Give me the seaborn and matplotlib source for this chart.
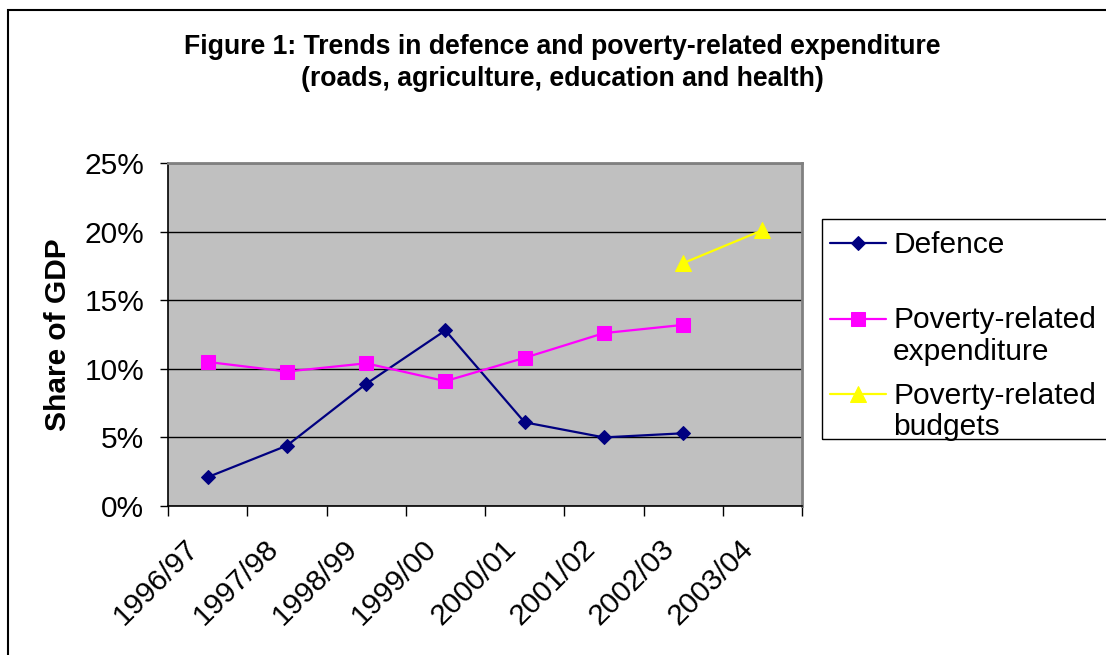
import matplotlib
matplotlib.use("Agg")
import matplotlib.pyplot as plt
import matplotlib.transforms as mtransforms
import seaborn as sns
import pandas as pd
import numpy as np
from matplotlib.patches import Rectangle
from matplotlib.legend_handler import HandlerLine2D

categories = ["1996/97", "1997/98", "1998/99", "1999/00", "2000/01", "2001/02", "2002/03", "2003/04"]
defence = [2.1, 4.4, 8.9, 12.8, 6.1, 5.0, 5.3, None]
poverty_exp = [10.5, 9.8, 10.4, 9.1, 10.8, 12.6, 13.2, None]
poverty_budget = [None, None, None, None, None, None, 17.7, 20.1]
series_names = ["Defence", "Poverty-related\nexpenditure", "Poverty-related\nbudgets"]
yticks = [0, 5, 10, 15, 20, 25]
ytick_labels = ["0%", "5%", "10%", "15%", "20%", "25%"]

sns.set_theme(style="white")
plt.rcParams['font.family'] = ['Liberation Sans', 'DejaVu Sans']
plt.rcParams['text.color'] = 'black'
plt.rcParams['axes.labelcolor'] = 'black'
plt.rcParams['xtick.color'] = 'black'
plt.rcParams['ytick.color'] = 'black'

rows = []
for name, vals in zip(series_names, [defence, poverty_exp, poverty_budget]):
    for i, v in enumerate(vals):
        if v is not None:
            rows.append({"x": i, "value": v, "series": name})
df = pd.DataFrame(rows)

fig = plt.figure(figsize=(11.06, 6.55), dpi=100)
fig.patch.set_facecolor("white")
ax = fig.add_axes([168/1106, 1-506/655, (802-168)/1106, (506-163)/655])
ax.set_facecolor("#C0C0C0")

colors = ["#000080", "#FF00FF", "#FFFF00"]
markers = ["D", "s", "^"]
sizes = [7, 10, 11]

for name, c, m, s in zip(series_names, colors, markers, sizes):
    sub = df[df.series == name]
    sns.lineplot(data=sub, x="x", y="value", ax=ax, color=c,
                 marker=m, markersize=s, markeredgecolor=c, linewidth=1.6, label=name)

ax.set_ylim(0, 25)
ax.set_xlim(-0.5, len(categories) - 0.5)
ax.set_yticks(yticks)
ax.set_yticklabels(ytick_labels, fontsize=21.5)
ax.yaxis.grid(True, color="black", linewidth=1)
ax.xaxis.grid(False)

ax.set_xticks(np.arange(-0.5, len(categories), 1.0))
ax.set_xticklabels([])
ax.set_xticks(np.arange(len(categories)), minor=True)
ax.set_xticklabels(categories, minor=True, rotation=45, ha="right",
                   va="top", rotation_mode="anchor", fontsize=21.5)
ax.tick_params(axis="x", which="major", direction="out", length=7, width=1, color="black", bottom=True)
ax.tick_params(axis="x", which="minor", length=0, pad=16)
ax.tick_params(axis="y", direction="out", length=6, width=1, color="black", left=True, pad=11)

offset = mtransforms.ScaledTranslation(-23/100, -6/100, fig.dpi_scale_trans)
for lab in ax.xaxis.get_minorticklabels():
    lab.set_transform(lab.get_transform() + offset)

for s in ["left", "bottom"]:
    ax.spines[s].set_color("black")
    ax.spines[s].set_linewidth(1.2)
for s in ["top", "right"]:
    ax.spines[s].set_color("#808080")
    ax.spines[s].set_linewidth(2)

ax.set_xlabel("")
ax.set_ylabel("Share of GDP", fontsize=21.5, fontweight="bold", labelpad=9)

fig.text(562/1106, 1 - 63/655,
         "Figure 1: Trends in defence and poverty-related expenditure\n(roads, agriculture, education and health)",
         ha="center", va="center", fontsize=19.2, fontweight="bold", linespacing=1.3)


class HandlerTop(HandlerLine2D):
    def __init__(self, shift, **kw):
        super().__init__(**kw)
        self.shift = shift

    def create_artists(self, legend, orig_handle, xdescent, ydescent,
                       width, height, fontsize, trans):
        return super().create_artists(legend, orig_handle, xdescent,
                                      ydescent - self.shift, width, height,
                                      fontsize, trans)


handles, labels = ax.get_legend_handles_labels()
labels = [lab if "\n" in lab else lab + "\n " for lab in labels]
hmap = {h: HandlerTop(26) for h in handles}
leg = ax.legend(handles, labels, handler_map=hmap,
                loc="upper left", bbox_to_anchor=(819/1106, 1-220/655-0.01, 300/1106, 0.01),
                mode="expand",
                bbox_transform=fig.transFigure, frameon=False,
                fontsize=21.5, handlelength=1.85, handletextpad=0.25,
                labelspacing=0.53, borderpad=0.38, borderaxespad=0)
for t in leg.get_texts():
    t.set_linespacing(1.15)

# legend frame
fig.add_artist(Rectangle((822/1106, 1-439/655), 300/1106, (439-219)/655,
                         transform=fig.transFigure, fill=False,
                         edgecolor="black", linewidth=1, zorder=1))

fig.add_artist(Rectangle((8/1106, -0.1), 1.2, 1 - 10/655 + 0.1, transform=fig.transFigure,
                         fill=False, edgecolor="black", linewidth=1.5))

fig.savefig("out.png", dpi=100)
